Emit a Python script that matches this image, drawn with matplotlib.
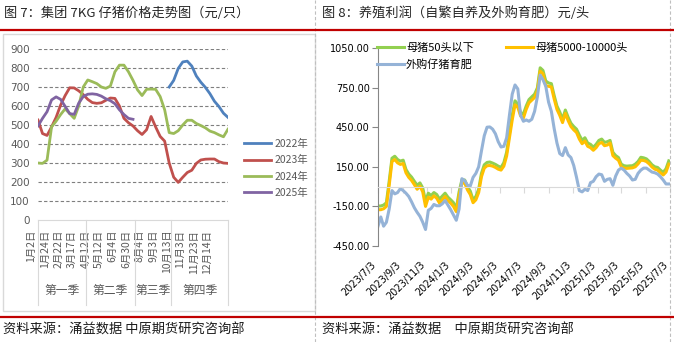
import matplotlib
matplotlib.use('Agg')
import matplotlib.pyplot as plt
import matplotlib.transforms as mtransforms
from matplotlib.patches import Rectangle
from matplotlib.lines import Line2D
import numpy as np
import pandas as pd

plt.rcParams['font.family'] = ['DejaVu Sans', 'Noto Sans CJK SC']
CJK = ['Noto Sans CJK SC', 'DejaVu Sans']

# ---- left chart data: group 7KG piglet price (yuan/head)
cats = ['1月2日', '1月10日', '1月17日', '1月24日', '2月1日', '2月14日', '2月22日', '3月1日',
        '3月8日', '3月17日', '3月24日', '4月3日', '4月12日', '4月20日', '4月28日', '5月12日',
        '5月19日', '5月26日', '6月4日', '6月12日', '6月20日', '6月30日', '7月14日', '7月21日',
        '8月4日', '8月14日', '8月24日', '9月3日', '9月15日', '9月29日', '10月13日', '10月20日',
        '10月27日', '11月3日', '11月10日', '11月16日', '11月23日', '11月30日', '12月7日',
        '12月14日', '12月21日', '12月28日', '12月31日']
quarters = ['第一季', '第二季', '第三季', '第四季']
nan = np.nan
y2022 = [nan] * 29 + [700, 735, 798, 832, 836, 810, 758, 725, 698, 665, 625, 597, 562, 540]
y2023 = [526, 455, 445, 490, 540, 605, 655, 696, 695, 680, 660, 635, 618, 614, 617, 630,
         642, 640, 600, 535, 512, 495, 470, 450, 475, 545, 490, 440, 415, 300, 225, 198,
         225, 250, 262, 298, 316, 320, 321, 321, 307, 300, 298]
y2024 = [300, 298, 315, 490, 520, 555, 585, 560, 535, 600, 700, 737, 728, 718, 700, 693,
         705, 780, 815, 815, 780, 735, 685, 655, 688, 689, 688, 650, 580, 460, 455, 470,
         500, 525, 525, 508, 497, 485, 468, 460, 448, 438, 478]
y2025 = [495, 535, 570, 632, 648, 635, 598, 560, 556, 615, 650, 662, 664, 661, 652, 638,
         628, 612, 580, 555, 535, 530]
left_names = ['2022年', '2023年', '2024年', '2025年']
left_colors = ['#4F81BD', '#C0504D', '#9BBB59', '#8064A2']

# ---- right chart data: breeding profit (yuan/head), weekly from 2023/7/3
sow_small = [-147, -147, -140, -122, 40, 215, 230, 205, 193, 200,
             130, 95, 72, 40, 10, 28, -10, -110, -50, -68,
             -45, -60, -95, -72, -50, -80, -100, -122, -168, -40,
             50, 50, 0, -34, -100, -75, -21, 100, 165, 183,
             186, 178, 168, 155, 145, 181, 260, 400, 540, 650,
             625, 560, 550, 610, 659, 680, 700, 748, 900, 880,
             800, 785, 780, 690, 610, 565, 510, 580, 525, 480,
             455, 435, 390, 350, 370, 330, 320, 298, 320, 350,
             360, 335, 340, 350, 260, 235, 220, 170, 158, 155,
             157, 158, 170, 190, 222, 218, 210, 190, 165, 150,
             145, 125, 108, 135, 195]
sow_large = [-175, -175, -168, -150, 10, 190, 205, 180, 168, 175,
             105, 70, 47, 15, -20, 3, -40, -150, -80, -95,
             -70, -88, -125, -100, -75, -105, -125, -150, -190, -65,
             25, 28, -25, -60, -122, -100, -45, 75, 140, 158,
             160, 155, 145, 132, 125, 155, 232, 370, 505, 620,
             600, 535, 520, 585, 635, 655, 675, 725, 875, 855,
             765, 760, 755, 665, 585, 540, 485, 555, 500, 455,
             430, 410, 360, 325, 345, 305, 295, 275, 295, 325,
             335, 310, 315, 330, 235, 215, 200, 150, 140, 138,
             140, 142, 150, 172, 200, 198, 190, 172, 148, 132,
             125, 105, 88, 110, 170]
bought = [-300, -230, -300, -270, -170, -30, -55, -45, -15, -30,
          -50, -75, -115, -160, -195, -225, -270, -325, -180, -165,
          -135, -145, -145, -130, -105, -140, -175, -215, -255, -170,
          60, 45, 10, 4, 70, 100, 150, 270, 385, 450,
          452, 435, 400, 340, 300, 305, 370, 540, 700, 770,
          740, 540, 495, 505, 495, 510, 570, 680, 845, 810,
          760, 640, 570, 440, 330, 250, 235, 295, 240, 220,
          160, 70, -30, -40, -20, -30, 30, 40, 75, 95,
          90, 40, 55, 60, 10, 80, 125, 140, 125, 100,
          80, 50, 55, 100, 125, 140, 140, 125, 110, 105,
          95, 75, 50, 20, 20]
right_names = ['母猪50头以下', '母猪5000-10000头', '外购仔猪育肥']
right_colors = ['#92D050', '#FFC000', '#95B3D7']
date_ticks = ['2023/7/3', '2023/9/3', '2023/11/3', '2024/1/3', '2024/3/3', '2024/5/3',
              '2024/7/3', '2024/9/3', '2024/11/3', '2025/1/3', '2025/3/3', '2025/5/3',
              '2025/7/3']

W, H = 674, 342
fig = plt.figure(figsize=(W / 100, H / 100), dpi=100)


def fx(px):
    return px / W


def fy(py):
    return 1 - py / H


# page decorations
fig.add_artist(Rectangle((fx(3), fy(311)), fx(315) - fx(3), (311 - 34) / H,
                         transform=fig.transFigure, fill=False, ec='#d9d9d9', lw=1))
for xp in (315, 670):
    fig.add_artist(Line2D([fx(xp), fx(xp)], [0, 1], color='#bfbfbf', lw=0.8, ls=(0, (3, 2))))
for yp in (30, 317):
    fig.add_artist(Line2D([0, 1], [fy(yp), fy(yp)], color='#C00000', lw=1.6))

fig.text(fx(4), fy(13), '图 7：集团 7KG 仔猪价格走势图（元/只）', fontsize=9.5,
         va='center', family=CJK, color='#262626')
fig.text(fx(322), fy(13), '图 8：养殖利润（自繁自养及外购育肥）元/头', fontsize=9.5,
         va='center', family=CJK, color='#262626')
fig.text(fx(3), fy(330), '资料来源：涌益数据 中原期货研究咨询部', fontsize=9.5,
         va='center', family=CJK, color='#1a1a1a')
fig.text(fx(322), fy(330), '资料来源：涌益数据　中原期货研究咨询部', fontsize=9.5,
         va='center', family=CJK, color='#1a1a1a')

# ---- left chart
ax1 = fig.add_axes([fx(38), fy(220), fx(228) - fx(38), (220 - 49) / H])
x = np.arange(len(cats))
handles = []
for name, vals, col in zip(left_names, [y2022, y2023, y2024, y2025], left_colors):
    v = np.array(vals + [nan] * (len(cats) - len(vals)), dtype=float)
    h, = ax1.plot(x, v, color=col, lw=2.0, label=name)
    handles.append(h)
ax1.set_xlim(0, len(cats) - 1)
ax1.set_ylim(0, 900)
ax1.set_yticks(range(0, 901, 100))
ax1.yaxis.grid(True, ls=(0, (3, 2)), color='#7f7f7f', lw=0.8)
ax1.get_ygridlines()[0].set_visible(False)
ax1.set_axisbelow(True)
for s in ('left', 'top', 'right'):
    ax1.spines[s].set_visible(False)
ax1.spines['bottom'].set_color('#d9d9d9')
ax1.tick_params(axis='y', length=0, pad=6, labelsize=7.5, labelcolor='#595959')
# every third date is labelled, the last few weeks carry no label
ax1.set_xticks(x[:40:3], labels=cats[:40:3], rotation=90, fontsize=7.5, color='#595959',
               family=CJK)
ax1.tick_params(axis='x', length=0, pad=7)
shift = mtransforms.ScaledTranslation(-0.07, 0, fig.dpi_scale_trans)
for lbl in ax1.get_xticklabels():
    lbl.set_transform(lbl.get_transform() + shift)

# quarter groups under the date labels
qidx = np.array([(int(c.split('月')[0]) - 1) // 3 for c in cats])
bounds = [0.0] + [i - 0.5 for i in range(1, len(cats)) if qidx[i] != qidx[i - 1]] + [len(cats) - 1.0]
trans = mtransforms.blended_transform_factory(ax1.transData, ax1.transAxes)
for b in bounds:
    ax1.plot([b, b], [0, -0.497], transform=trans, clip_on=False, color='#d9d9d9', lw=0.8)
for q, (a, b) in enumerate(zip(bounds[:-1], bounds[1:])):
    ax1.text((a + b) / 2, -0.415, quarters[q], transform=trans, ha='center', va='center',
             fontsize=8.5, color='#595959', family=CJK)

fig.legend(handles=handles, loc='upper left', bbox_to_anchor=(fx(244), fy(139)),
           frameon=False, prop={'family': CJK, 'size': 7.5}, labelcolor='#595959',
           handlelength=2.6, handletextpad=0.3, labelspacing=0.6, borderpad=0,
           borderaxespad=0)

# ---- right chart
ax2 = fig.add_axes([fx(378), fy(246), fx(670) - fx(378), (246 - 48) / H])
weeks = pd.date_range('2023-07-03', periods=len(sow_small), freq='7D')
rh = []
for name, vals, col in zip(right_names, [sow_small, sow_large, bought], right_colors):
    h, = ax2.plot(weeks, vals, color=col, lw=2.2, label=name)
    rh.append(h)
tick_dates = pd.to_datetime(date_ticks, format='%Y/%m/%d')
ax2.set_xlim(tick_dates[0], tick_dates[-1])
ax2.set_ylim(-450, 1050)
ax2.set_yticks(range(-450, 1051, 300))
ax2.yaxis.set_major_formatter(matplotlib.ticker.FormatStrFormatter('%.2f'))
ax2.spines['top'].set_visible(False)
ax2.spines['right'].set_visible(False)
ax2.spines['left'].set_color('#868686')
ax2.spines['bottom'].set_position(('data', 0))
ax2.spines['bottom'].set_color('#d9d9d9')
ax2.tick_params(axis='y', direction='out', length=4, color='#868686', labelsize=7, pad=2)
ax2.set_xticks(tick_dates)
ax2.tick_params(axis='x', direction='out', length=4, color='#d9d9d9', labelbottom=False)
sec = ax2.secondary_xaxis('bottom')
sec.set_xticks(tick_dates, labels=date_ticks)
sec.spines['bottom'].set_visible(False)
sec.tick_params(length=0, pad=10, labelsize=7)
for lbl in sec.get_xticklabels():
    lbl.set_rotation(45)
    lbl.set_ha('right')

ax2.legend(handles=[rh[0], rh[2], rh[1]], ncol=2, loc='upper left',
           bbox_to_anchor=(fx(377), fy(43)), bbox_transform=fig.transFigure,
           frameon=False, prop={'family': CJK, 'size': 8}, handlelength=2.4,
           handletextpad=0.2, columnspacing=2.9, labelspacing=0.55, borderpad=0,
           borderaxespad=0)

fig.savefig('out.png', dpi=100)
